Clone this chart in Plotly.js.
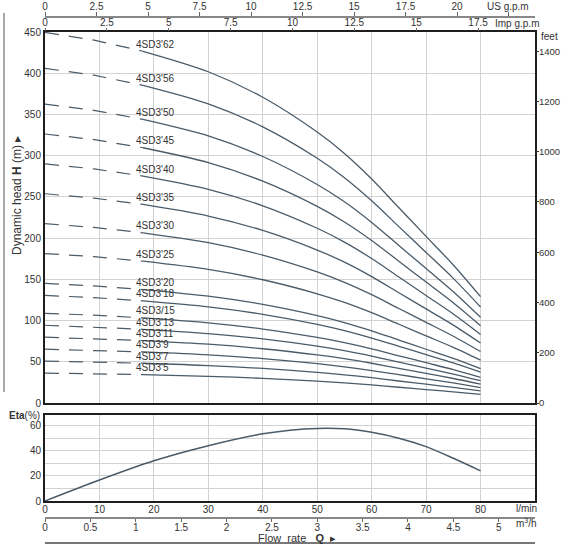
<!DOCTYPE html>
<html>
<head>
<meta charset="utf-8">
<script src="https://cdn.plot.ly/plotly-3.0.1.min.js"></script>
<style>
  html, body { margin: 0; padding: 0; background: #fff; }
  #chart { width: 561px; height: 548px; }
</style>
</head>
<body>
<div id="chart"></div>
<script>
// flow points (l/min); first three are the dashed part
const flow = [0, 9, 18, 30, 40, 50, 55, 60, 65, 70, 75, 80];
const dashCount = 3;

const models = ["4SD3'5", "4SD3'7", "4SD3'9", "4SD3'11", "4SD3'13", "4SD3/15", "4SD3'18", "4SD3'20",
                "4SD3'25", "4SD3'30", "4SD3'35", "4SD3'40", "4SD3'45", "4SD3'50", "4SD3'56", "4SD3'62"];

// head in metres per model
const head5  = [36.3, 35.5, 34.4, 32.4, 29.9, 26.5, 24.4, 21.9, 19.1, 16.3, 13.5, 10.4];
const head7  = [50.8, 49.7, 48.2, 45.4, 41.9, 37.1, 34.2, 30.7, 26.7, 22.8, 18.9, 14.6];
const head9  = [65.3, 63.9, 61.9, 58.3, 53.8, 47.7, 43.9, 39.4, 34.4, 29.3, 24.3, 18.7];
const head11 = [79.8, 78.1, 75.7, 71.3, 65.8, 58.3, 53.7, 48.2, 42.0, 35.9, 29.7, 22.9];
const head13 = [94.3, 92.3, 89.4, 84.2, 77.7, 68.9, 63.4, 56.9, 49.7, 42.4, 35.1, 27.0];
const head15 = [108.8, 106.5, 103.2, 97.2, 89.7, 79.5, 73.2, 65.7, 57.3, 48.9, 40.5, 31.2];
const head18 = [130.5, 127.8, 123.8, 116.6, 107.6, 95.4, 87.8, 78.8, 68.8, 58.7, 48.6, 37.4];
const head20 = [145.0, 142.0, 137.6, 129.6, 119.6, 106.0, 97.6, 87.6, 76.4, 65.2, 54.0, 41.6];
const head25 = [181.3, 177.5, 172.0, 162.0, 149.5, 132.5, 122.0, 109.5, 95.5, 81.5, 67.5, 52.0];
const head30 = [217.5, 213.0, 206.4, 194.4, 179.4, 159.0, 146.4, 131.4, 114.6, 97.8, 81.0, 62.4];
const head35 = [253.8, 248.5, 240.8, 226.8, 209.3, 185.5, 170.8, 153.3, 133.7, 114.1, 94.5, 72.8];
const head40 = [290.0, 284.0, 275.2, 259.2, 239.2, 212.0, 195.2, 175.2, 152.8, 130.4, 108.0, 83.2];
const head45 = [326.3, 319.5, 309.6, 291.6, 269.1, 238.5, 219.6, 197.1, 171.9, 146.7, 121.5, 93.6];
const head50 = [362.5, 355.0, 344.0, 324.0, 299.0, 265.0, 244.0, 219.0, 191.0, 163.0, 135.0, 104.0];
const head56 = [406.0, 397.6, 385.3, 362.9, 334.9, 296.8, 273.3, 245.3, 213.9, 182.6, 151.2, 116.5];
const head62 = [449.5, 440.2, 426.6, 401.8, 370.8, 328.6, 302.6, 271.6, 236.8, 202.1, 167.4, 129.0];

const heads = [head5, head7, head9, head11, head13, head15, head18, head20,
               head25, head30, head35, head40, head45, head50, head56, head62];

// efficiency curve
const etaFlow = [0, 10, 20, 30, 40, 45, 50, 55, 60, 65, 70, 75, 80];
const eta     = [0, 16.7, 32, 44, 53.5, 56.4, 57.8, 57.5, 54.7, 50, 43.3, 34, 24];

// secondary scales
const impTicks = [0, 2.5, 5, 7.5, 10, 12.5, 15, 17.5];
const usTicks  = [0, 2.5, 5, 7.5, 10, 12.5, 15, 17.5, 20, 22.5];
const usLabels = ['0', '2.5', '5', '7.5', '10', '12.5', '15', '17.5', '20', ''];
const m3hTicks = [0, 0.5, 1, 1.5, 2, 2.5, 3, 3.5, 4, 4.5, 5];
const feetTicks = [0, 200, 400, 600, 800, 1000, 1200, 1400];
const lminTicks = [0, 10, 20, 30, 40, 50, 60, 70, 80];

const lineColor = '#4a5b69';
const gridColor = '#d2d2d2';
const frameColor = '#1e1e1e';
const font = { family: 'Liberation Sans, Arial, sans-serif', size: 10, color: '#333' };

const traces = [];
const annotations = [];

heads.forEach((h, i) => {
    traces.push({
        x: flow.slice(0, dashCount), y: h.slice(0, dashCount),
        mode: 'lines', line: { color: lineColor, width: 1.2, dash: '14px,10px' },
        hoverinfo: 'skip', showlegend: false
    });
    traces.push({
        x: flow.slice(dashCount - 1), y: h.slice(dashCount - 1),
        mode: 'lines', line: { color: lineColor, width: 1.3, shape: 'spline', smoothing: 0.8 },
        hoverinfo: 'skip', showlegend: false
    });
    annotations.push({
        x: 16.3, y: h[dashCount - 1], xref: 'x', yref: 'y',
        text: models[i], showarrow: false, xanchor: 'left', yanchor: 'middle', yshift: 7,
        font: { family: font.family, size: 10, color: '#333' }
    });
});

traces.push({
    x: etaFlow, y: eta, xaxis: 'x2', yaxis: 'y2',
    mode: 'lines', line: { color: lineColor, width: 1.5, shape: 'spline', smoothing: 0.8 },
    hoverinfo: 'skip', showlegend: false
});

// invisible anchors so the extra scales get drawn
[['x3', 'y'], ['x4', 'y'], ['x', 'y3'], ['x5', 'y2']].forEach(([xa, ya]) => {
    traces.push({ x: [0], y: [0], xaxis: xa, yaxis: ya, mode: 'markers',
        marker: { opacity: 0 }, hoverinfo: 'skip', showlegend: false });
});

// pixel helpers for text placed outside the plot
const L = 45, R = 535, T = 16, B = 543;
const px = x => (x - L) / (R - L);
const py = y => (B - y) / (B - T);

function note(x, y, text, extra) {
    return Object.assign({ xref: 'paper', yref: 'paper', x: px(x), y: py(y), text: text,
        showarrow: false, xanchor: 'center', yanchor: 'middle', font: font }, extra || {});
}

annotations.push(
    note(508, 7, 'US g.p.m'),
    note(517, 23, 'Imp g.p.m'),
    note(549, 37, 'feet'),
    note(7, 415, '<b>Eta</b>(%)', { xanchor: 'left' }),
    note(526, 508, 'l/min'),
    note(526, 523, 'm<sup>3</sup>/h'),
    note(297, 538, 'Flow  rate   <b>Q</b>  ▸', { font: { family: font.family, size: 11, color: '#333' } }),
    note(17, 196, 'Dynamic head <b>H</b> (m) ▸', { textangle: -90,
        font: { family: font.family, size: 12, color: '#333' } })
);

const frame = { showline: true, mirror: true, linecolor: frameColor, linewidth: 2 };

const layout = {
    width: 561, height: 548,
    margin: { l: L, r: 561 - R, t: T, b: 548 - B, pad: 0 },
    paper_bgcolor: '#fff', plot_bgcolor: '#fff',
    font: font,
    showlegend: false,
    xaxis: Object.assign({ anchor: 'y', range: [0, 90], tickvals: lminTicks, showticklabels: false,
        gridcolor: gridColor, zeroline: false, ticks: '' }, frame),
    yaxis: Object.assign({ domain: [py(403), py(32)], range: [0, 450], dtick: 50,
        gridcolor: gridColor, zeroline: false, ticks: '', tickfont: font }, frame),
    yaxis3: { overlaying: 'y', side: 'right', anchor: 'x', range: [0, 1476.4], tickvals: feetTicks,
        showgrid: false, zeroline: false, showline: false, ticks: 'outside', ticklen: 3, tickcolor: '#333',
        ticklabelstandoff: -2, tickfont: { family: font.family, size: 9.5, color: '#333' } },
    xaxis3: { overlaying: 'x', side: 'top', anchor: 'y', range: [0, 19.8], tickvals: impTicks,
        showgrid: false, zeroline: false, showline: false, ticks: 'outside', ticklen: 3, tickcolor: '#666',
        ticklabelstandoff: -2, tickfont: font },
    xaxis4: { overlaying: 'x', side: 'top', anchor: 'free', position: 1, range: [0, 23.78], tickvals: usTicks,
        ticktext: usLabels,
        showgrid: false, zeroline: false, showline: true, linecolor: '#888', linewidth: 1.5,
        ticks: 'outside', ticklen: 4, tickcolor: '#666', ticklabelstandoff: -2, tickfont: font },
    xaxis2: Object.assign({ anchor: 'y2', range: [0, 90], tickvals: lminTicks,
        gridcolor: gridColor, zeroline: false, ticks: '', ticklabelstandoff: -2, tickfont: font }, frame),
    yaxis2: Object.assign({ domain: [py(501), py(415)], anchor: 'x2', range: [0, 68.5],
        tickvals: [0, 10, 20, 30, 40, 50, 60], ticktext: ['0', '', '20', '', '40', '', '60'],
        gridcolor: gridColor, zeroline: false, ticks: '', tickfont: font }, frame),
    xaxis5: { overlaying: 'x2', side: 'bottom', anchor: 'free', position: py(517), range: [0, 5.4],
        tickvals: m3hTicks, ticktext: ['0', '0.5', '1', '1.5', '2', '2.5', '3', '3.5', '4', '4.5', '5'],
        showgrid: false, zeroline: false, showline: true, linecolor: '#888', linewidth: 1.5,
        ticks: 'outside', ticklen: 3, tickcolor: '#666', ticklabelstandoff: -3, tickfont: font },
    shapes: [
        { type: 'line', xref: 'paper', yref: 'paper', x0: px(4), x1: px(4), y0: py(392), y1: py(13),
          line: { color: '#555', width: 1 } },
        { type: 'line', xref: 'paper', yref: 'paper', x0: 0, x1: 1, y0: py(543), y1: py(543),
          line: { color: '#777', width: 2 } }
    ],
    annotations: annotations
};

Plotly.newPlot('chart', traces, layout, { displayModeBar: false, staticPlot: true });
</script>
</body>
</html>
